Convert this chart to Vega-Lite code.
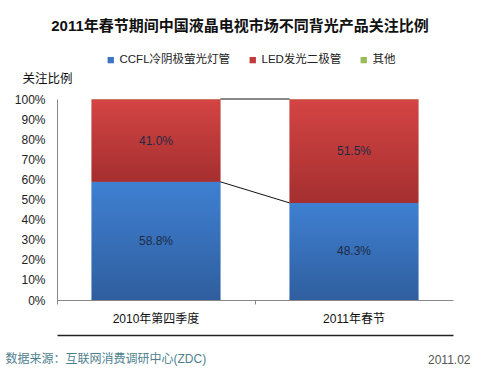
{
  "$schema": "https://vega.github.io/schema/vega-lite/v6.json",
  "autosize": "none",
  "width": 396,
  "height": 201,
  "padding": {"left": 57, "top": 99, "right": 30, "bottom": 68},
  "background": "white",
  "config": {
    "view": {"stroke": null},
    "font": "Liberation Sans, Noto Sans CJK SC",
    "axis": {"labelFont": "Liberation Sans, Noto Sans CJK SC", "titleFont": "Liberation Sans, Noto Sans CJK SC"},
    "axisY": {
      "titleAngle": 0,
      "titleAlign": "left",
      "titleBaseline": "middle",
      "titleX": -35,
      "titleY": -21,
      "titleFontSize": 12.5,
      "titleFontWeight": "normal",
      "titleColor": "#111111",
      "labelOverlap": false,
      "labelFontSize": 12,
      "labelColor": "#222222",
      "labelPadding": 12,
      "grid": false,
      "ticks": false,
      "domainColor": "#888888"
    },
    "legend": {"labelFont": "Liberation Sans, Noto Sans CJK SC"}
  },
  "title": {
    "text": "2011年春节期间中国液晶电视市场不同背光产品关注比例",
    "font": "Liberation Sans, Noto Sans CJK SC",
    "fontSize": 15,
    "fontWeight": "bold",
    "color": "#111111",
    "anchor": "middle",
    "dx": -15,
    "offset": 20
  },
  "datasets": {
    "bars": [
      {"period": "2010年第四季度", "type": "CCFL冷阴极萤光灯管", "order": 1, "value": 58.8},
      {"period": "2010年第四季度", "type": "LED发光二极管", "order": 2, "value": 41.0},
      {"period": "2010年第四季度", "type": "其他", "order": 3, "value": 0.2},
      {"period": "2011年春节", "type": "CCFL冷阴极萤光灯管", "order": 1, "value": 48.3},
      {"period": "2011年春节", "type": "LED发光二极管", "order": 2, "value": 51.5},
      {"period": "2011年春节", "type": "其他", "order": 3, "value": 0.2}
    ],
    "links": [
      {"from": "2010年第四季度", "to": "2011年春节", "y1": 58.8, "y2": 48.3},
      {"from": "2010年第四季度", "to": "2011年春节", "y1": 100, "y2": 100}
    ]
  },
  "resolve": {"axis": {"x": "independent", "y": "independent"}},
  "layer": [
    {
      "data": {"name": "bars"},
      "transform": [
        {"stack": "value", "groupby": ["period"], "sort": [{"field": "order"}], "as": ["y0", "y1"]},
        {"calculate": "(datum.y0 + datum.y1) / 2", "as": "mid"},
        {"calculate": "format(datum.value, '.1f') + '%'", "as": "label"}
      ],
      "encoding": {
        "x": {
          "field": "period", "type": "nominal", "sort": null,
          "scale": {"paddingInner": 0, "paddingOuter": 0},
          "axis": {
            "title": "数据来源：互联网消费调研中心(ZDC)",
            "titleColor": "#4F7F8F",
            "titleFontSize": 12,
            "titleFontWeight": "normal",
            "titleAlign": "left",
            "titleBaseline": "middle",
            "titleAnchor": "start",
            "titleX": -52,
            "titleY": 58,
            "labelAngle": 0,
            "labelFontSize": 12,
            "labelColor": "#111111",
            "labelPadding": 9,
            "bandPosition": 0,
            "domainColor": "#888888",
            "tickColor": "#888888",
            "tickSize": 4
          }
        },
        "y": {
          "field": "y0", "type": "quantitative",
          "scale": {"domain": [0, 100], "nice": false},
          "axis": {
            "title": "关注比例",
            "values": [0, 10, 20, 30, 40, 50, 60, 70, 80, 90, 100],
            "labelExpr": "datum.value + '%'"
          }
        },
        "y2": {"field": "y1"}
      },
      "layer": [
        {
          "mark": {"type": "bar", "width": {"band": 0.65}},
          "encoding": {
            "color": {
              "field": "type", "type": "nominal",
              "scale": {
                "domain": ["CCFL冷阴极萤光灯管", "LED发光二极管", "其他"],
                "range": ["#3A74C2", "#C23A3A", "#9BBB59"]
              },
              "legend": {
                "title": null,
                "orient": "none",
                "direction": "horizontal",
                "legendX": 48,
                "legendY": -45,
                "symbolType": "square",
                "symbolSize": 40,
                "symbolStrokeWidth": 0,
                "labelFontSize": 11.5,
                "labelColor": "#222222",
                "labelOffset": 3,
                "columnPadding": 16
              }
            }
          }
        },
        {
          "transform": [{"filter": "datum.type === 'CCFL冷阴极萤光灯管'"}],
          "mark": {
            "type": "bar", "width": {"band": 0.65},
            "fill": {"gradient": "linear", "x1": 0, "y1": 0, "x2": 0, "y2": 1,
              "stops": [{"offset": 0, "color": "#3F80D2"}, {"offset": 1, "color": "#2F5E9E"}]}
          }
        },
        {
          "transform": [{"filter": "datum.type === 'LED发光二极管'"}],
          "mark": {
            "type": "bar", "width": {"band": 0.65},
            "fill": {"gradient": "linear", "x1": 0, "y1": 0, "x2": 0, "y2": 1,
              "stops": [{"offset": 0, "color": "#D44444"}, {"offset": 1, "color": "#A52F2F"}]}
          }
        },
        {
          "transform": [{"filter": "datum.type !== '其他'"}],
          "mark": {"type": "text", "fontSize": 12, "color": "#1E2B45", "font": "Liberation Sans"},
          "encoding": {
            "x": {"field": "period", "type": "nominal", "sort": null, "bandPosition": 0.5},
            "y": {"field": "mid", "type": "quantitative"},
            "y2": null,
            "text": {"field": "label", "type": "nominal"}
          }
        }
      ]
    },
    {
      "data": {"name": "links"},
      "mark": {"type": "rule", "color": "#111111", "strokeWidth": 1},
      "encoding": {
        "x": {
          "field": "from", "type": "nominal", "bandPosition": 0.825,
          "axis": {"orient": "top", "title": null, "labels": false, "ticks": false, "domain": true, "domainColor": "#222222", "domainWidth": 1.3, "offset": -236}
        },
        "x2": {"field": "to", "bandPosition": 0.175},
        "y": {
          "field": "y1", "type": "quantitative",
          "axis": {
            "orient": "right",
            "title": "2011.02",
            "titleAngle": 0,
            "titleAlign": "right",
            "titleBaseline": "middle",
            "titleX": 17,
            "titleY": 260,
            "titleFontSize": 12,
            "titleFontWeight": "normal",
            "titleColor": "#555555",
            "labels": false,
            "ticks": false,
            "domain": false,
            "grid": false
          }
        },
        "y2": {"field": "y2"}
      }
    }
  ]
}
